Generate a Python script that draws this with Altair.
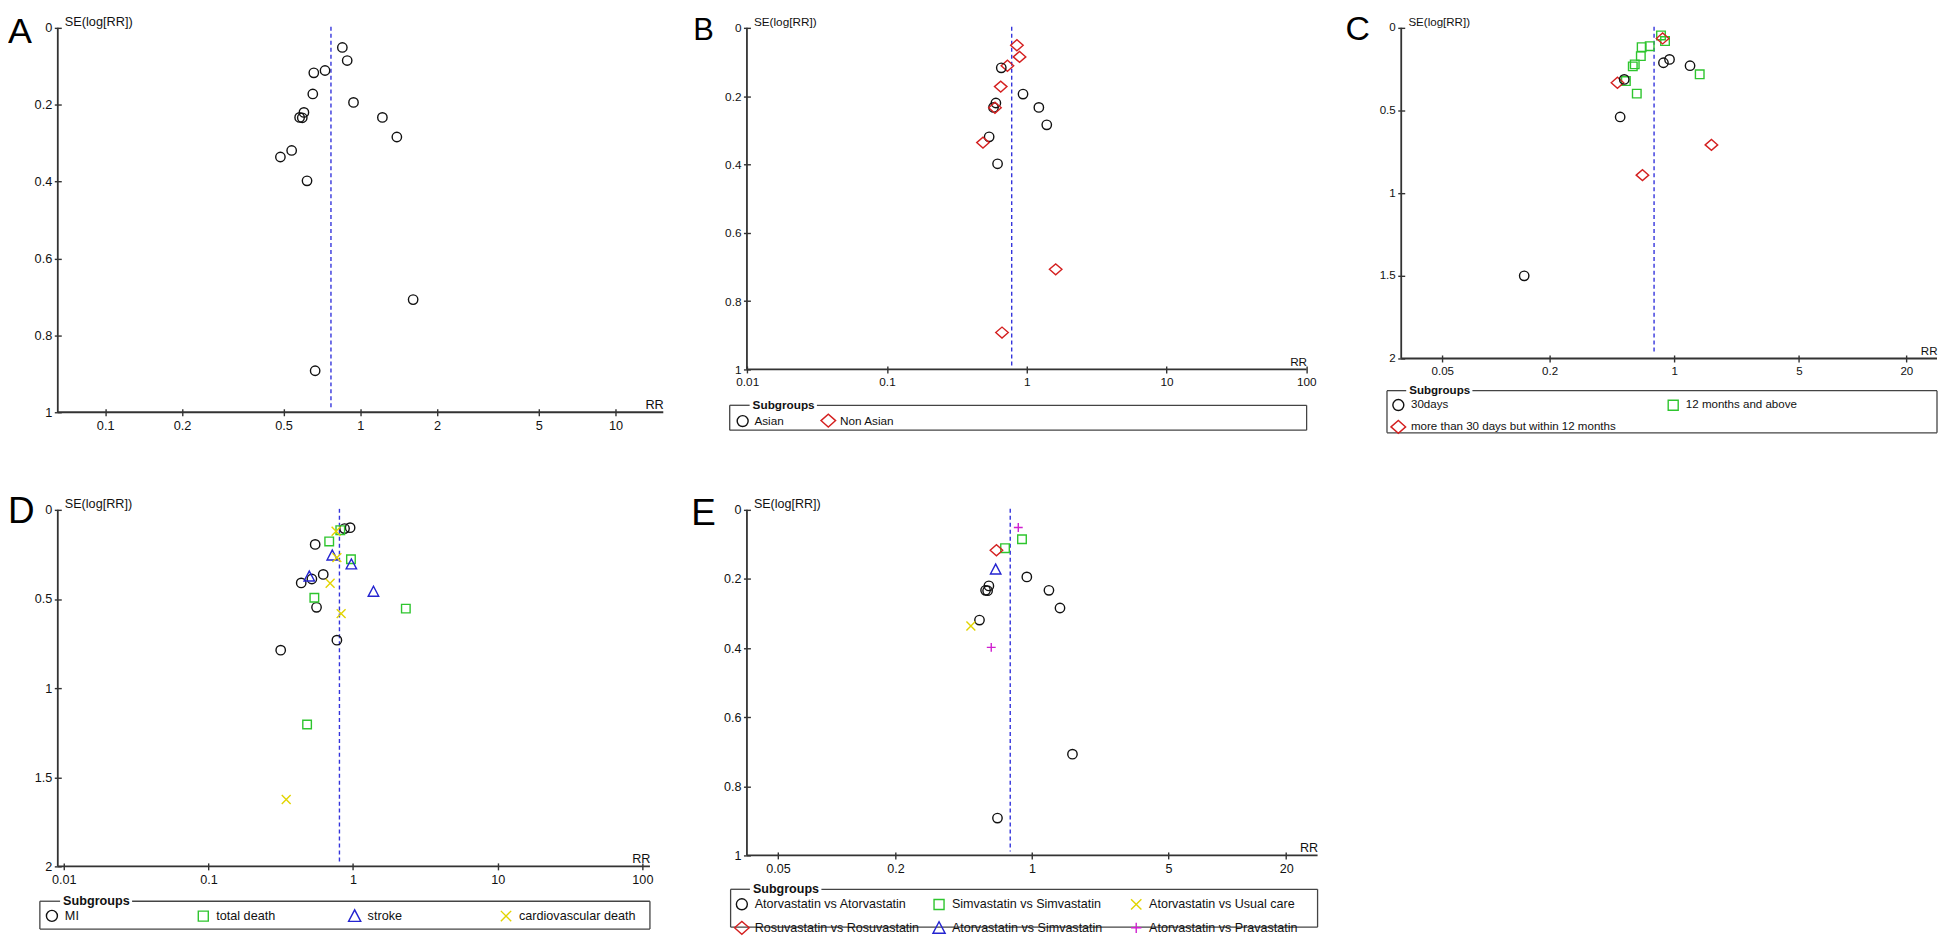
import altair as alt
import pandas as pd

FONT = "Liberation Sans"
AXC = "#333333"
TXT = "#111111"
BLACK = "#111111"
RED = "#d42020"
GREEN = "#2ec52e"
BLUE = "#2424d0"
YELLOW = "#e2d400"
MAGENTA = "#d020d0"
DASH = "#3434dc"

CIRCLE = "M0.9,0A0.9,0.9,0,1,1,-0.9,0A0.9,0.9,0,1,1,0.9,0Z"
DIAMOND = "M-1.2,0L0,-1.05L1.2,0L0,1.05Z"
SQUARE = "M-0.82,-0.82L0.82,-0.82L0.82,0.82L-0.82,0.82Z"
TRIANGLE = "M-1,0.9L0,-1L1,0.9Z"
XMARK = "M-0.85,-0.85L0.85,0.85M-0.85,0.85L0.85,-0.85"
PLUS = "M-0.85,0L0.85,0M0,-0.85L0,0.85"

# ---------------- data ----------------
# studies shared by panels A, B and E
rr_main = [0.850, 0.888, 0.727, 0.657, 0.651, 0.940, 0.601, 0.578, 0.592, 1.220,
           1.390, 0.538, 0.486, 0.618, 1.610, 0.665]
se_main = [0.051, 0.085, 0.111, 0.117, 0.172, 0.194, 0.220, 0.233, 0.234, 0.233,
           0.284, 0.319, 0.336, 0.398, 0.707, 0.892]
region_B = ["Non Asian", "Non Asian", "Non Asian", "Asian", "Non Asian", "Asian", "Asian",
            "Asian", "Non Asian", "Asian", "Asian", "Asian", "Non Asian", "Asian",
            "Non Asian", "Non Asian"]
statin_E = ["Atorvastatin vs Pravastatin", "Simvastatin vs Simvastatin",
            "Simvastatin vs Simvastatin", "Rosuvastatin vs Rosuvastatin",
            "Atorvastatin vs Simvastatin", "Atorvastatin vs Atorvastatin",
            "Atorvastatin vs Atorvastatin", "Atorvastatin vs Atorvastatin",
            "Atorvastatin vs Atorvastatin", "Atorvastatin vs Atorvastatin",
            "Atorvastatin vs Atorvastatin", "Atorvastatin vs Atorvastatin",
            "Atorvastatin vs Usual care", "Atorvastatin vs Pravastatin",
            "Atorvastatin vs Atorvastatin", "Atorvastatin vs Atorvastatin"]

# panel C
rr_C = [0.842, 0.887, 0.728, 0.656, 0.649, 0.600, 0.585, 0.535, 0.616, 1.388,
        0.860, 0.480, 1.615, 0.663,
        0.869, 0.940, 1.225, 0.524, 0.497, 0.144]
se_C = [0.046, 0.080, 0.111, 0.117, 0.171, 0.221, 0.233, 0.322, 0.398, 0.281,
        0.064, 0.332, 0.708, 0.891,
        0.211, 0.191, 0.229, 0.312, 0.539, 1.500]
time_C = (["12 months and above"] * 10 + ["more than 30 days but within 12 months"] * 4
          + ["30days"] * 6)

# panel D
rr_D = [0.954, 0.873, 0.547, 0.622, 0.519, 0.438, 0.559, 0.773, 0.316,
        0.816, 0.684, 0.967, 0.540, 2.316, 0.481,
        0.718, 0.973, 0.498, 1.384,
        0.763, 0.773, 0.694, 0.827, 0.345]
se_D = [0.100, 0.105, 0.194, 0.362, 0.388, 0.410, 0.547, 0.731, 0.787,
        0.114, 0.177, 0.277, 0.493, 0.554, 1.204,
        0.255, 0.305, 0.373, 0.458,
        0.120, 0.268, 0.412, 0.582, 1.625]
outcome_D = (["MI"] * 9 + ["total death"] * 6 + ["stroke"] * 4 + ["cardiovascular death"] * 5)

pooled = {"A": 0.767, "B": 0.78, "C": 0.77, "D": 0.805, "E": 0.773}

dfA = pd.DataFrame({"rr": rr_main, "se": se_main})
dfB = pd.DataFrame({"rr": rr_main, "se": se_main, "g": region_B})
dfC = pd.DataFrame({"rr": rr_C, "se": se_C, "g": time_C})
dfD = pd.DataFrame({"rr": rr_D, "se": se_D, "g": outcome_D})
dfE = pd.DataFrame({"rr": rr_main, "se": se_main, "g": statin_E})

ONE = pd.DataFrame({"k": [0]})


def rule(**enc):
    style = enc.pop("style", {})
    return alt.Chart(ONE).mark_rule(**style).encode(**enc)


def build(df, p):
    w, h, fs = p["w"], p["h"], p["fs"]
    xscale = alt.Scale(type="log", domain=p["xdom"], nice=False)
    yscale = alt.Scale(domain=[0, p["ymax"]], reverse=True, nice=False, zero=False)
    common = dict(format="~g", domain=False, grid=False, tickSize=7, tickWidth=1.4,
                  tickColor=AXC, offset=-3.5, labelFont=FONT, labelFontSize=fs,
                  labelColor=TXT, labelFlush=False, labelOverlap=False, titleFont=FONT,
                  titleFontSize=fs, titleFontWeight="normal", titleColor=TXT, titleAngle=0,
                  titleBaseline="alphabetic")
    xaxis = alt.Axis(values=p["xt"], labelPadding=4, title="RR", titleAlign="right",
                     titleX=p["axis_len"], titleY=0, **common)
    yaxis = alt.Axis(values=p["yt"], labelPadding=2.5, title="SE(log[RR])", titleAlign="left",
                     titleX=p["ytdx"] - 3.5, titleY=-2, **common)
    X = alt.X("rr:Q", scale=xscale, axis=xaxis)
    Y = alt.Y("se:Q", scale=yscale, axis=yaxis)

    layers = []
    # axis lines
    layers.append(rule(x=alt.value(0), x2=alt.value(p["axis_len"]), y=alt.value(h),
                       style=dict(color=AXC, strokeWidth=1.8)))
    layers.append(rule(x=alt.value(0), y=alt.value(0), y2=alt.value(h),
                       style=dict(color=AXC, strokeWidth=1.8)))
    # pooled estimate
    layers.append(alt.Chart(pd.DataFrame({"rr": [p["rr0"]]})).mark_rule(
        color=DASH, strokeDash=[4, 3], strokeWidth=1.4).encode(
        x=X, y=alt.value(-1), y2=alt.value(h - 4)))
    # points
    if "groups" in p:
        leg = alt.Legend(orient="none", legendX=p["lx"], legendY=p["ly"], direction="horizontal",
                         columns=p["cols"], title=None, labelFont=FONT, labelFontSize=fs,
                         labelColor=TXT, labelOffset=p["lo"], labelLimit=500, symbolSize=150,
                         symbolStrokeWidth=1.4, columnPadding=p["cp"], rowPadding=p["rp"],
                         gridAlign=p["ga"], padding=0)
        pts = alt.Chart(df).mark_point(filled=False, size=110, strokeWidth=1.4, opacity=1).encode(
            x=X, y=Y,
            shape=alt.Shape("g:N", scale=alt.Scale(domain=p["groups"], range=p["shapes"]), legend=leg),
            color=alt.Color("g:N", scale=alt.Scale(domain=p["groups"], range=p["colors"]), legend=leg))
    else:
        pts = alt.Chart(df).mark_point(filled=False, size=110, strokeWidth=1.4, opacity=1,
                                       shape=CIRCLE, color=BLACK).encode(x=X, y=Y)
    layers.append(pts)
    # panel letter
    layers.append(alt.Chart(ONE).mark_text(text=p["letter"], font=FONT, fontSize=p["lfs"],
                                           align="left", baseline="top", color="black")
                  .encode(x=alt.value(p["ldx"]), y=alt.value(p["ldy"])))
    # legend group box
    if "box" in p:
        bl, br, bt, bb, tl = p["box"]
        tw = 5.3 * fs
        st = dict(color="#444444", strokeWidth=1.3)
        layers.append(rule(x=alt.value(bl), x2=alt.value(tl - 3), y=alt.value(bt), style=st))
        layers.append(rule(x=alt.value(tl + tw + 2), x2=alt.value(br), y=alt.value(bt), style=st))
        layers.append(rule(x=alt.value(bl), x2=alt.value(br), y=alt.value(bb), style=st))
        layers.append(rule(x=alt.value(bl), y=alt.value(bt), y2=alt.value(bb), style=st))
        layers.append(rule(x=alt.value(br), y=alt.value(bt), y2=alt.value(bb), style=st))
        layers.append(alt.Chart(ONE).mark_text(text="Subgroups", font=FONT, fontSize=fs,
                                               fontWeight="bold", align="left", baseline="middle",
                                               color=TXT)
                      .encode(x=alt.value(tl), y=alt.value(bt)))
    return alt.layer(*layers).properties(width=w, height=h)


PA = dict(w=608, h=386, fs=12.8, xdom=[0.06519, 15.39], xt=[0.1, 0.2, 0.5, 1, 2, 5, 10],
          ymax=1, yt=[0, 0.2, 0.4, 0.6, 0.8, 1], rr0=pooled["A"], ytdx=6.5, axis_len=608,
          letter="A", lfs=36, ldx=-50, ldy=-13)
PB = dict(w=562, h=343, fs=11.8, xdom=[0.00995, 100.5], xt=[0.01, 0.1, 1, 10, 100],
          ymax=1, yt=[0, 0.2, 0.4, 0.6, 0.8, 1], rr0=pooled["B"], ytdx=6.5, axis_len=562,
          letter="B", lfs=31, ldx=-54, ldy=-12.3,
          groups=["Asian", "Non Asian"], shapes=[CIRCLE, DIAMOND], colors=[BLACK, RED],
          lx=-11.3, ly=387, cols=2, cp=33, rp=0, lo=4.8, ga="each",
          box=(-17.3, 562, 379, 404, 5.7))
PC = dict(w=538, h=332, fs=11.6, xdom=[0.02944, 29.7], xt=[0.05, 0.2, 1, 5, 20],
          ymax=2, yt=[0, 0.5, 1, 1.5, 2], rr0=pooled["C"], ytdx=6.7, axis_len=538,
          letter="C", lfs=34, ldx=-56, ldy=-14.3,
          groups=["30days", "12 months and above", "more than 30 days but within 12 months"],
          shapes=[CIRCLE, SQUARE, DIAMOND], colors=[BLACK, GREEN, RED],
          lx=-9.9, ly=370.9, cols=2, cp=49, rp=2.8, lo=5.7, ga="all",
          box=(-14.3, 538, 364.3, 406.7, 8))
PD = dict(w=608, h=358, fs=12.7, xdom=[0.009093, 139.5], xt=[0.01, 0.1, 1, 10, 100],
          ymax=2, yt=[0, 0.5, 1, 1.5, 2], rr0=pooled["D"], ytdx=6.5, axis_len=594.6,
          letter="D", lfs=37, ldx=-50, ldy=-16,
          groups=["MI", "total death", "stroke", "cardiovascular death"],
          shapes=[CIRCLE, SQUARE, TRIANGLE, XMARK], colors=[BLACK, GREEN, BLUE, YELLOW],
          lx=-12.9, ly=400.4, cols=4, cp=12, rp=0, lo=6, ga="all",
          box=(-18, 594.6, 393, 421, 5.3))
PE = dict(w=573, h=347, fs=12.6, xdom=[0.03467, 28.97], xt=[0.05, 0.2, 1, 5, 20],
          ymax=1, yt=[0, 0.2, 0.4, 0.6, 0.8, 1], rr0=pooled["E"], ytdx=6.5, axis_len=573,
          letter="E", lfs=37, ldx=-56, ldy=-14,
          groups=["Atorvastatin vs Atorvastatin", "Simvastatin vs Simvastatin",
                  "Atorvastatin vs Usual care", "Rosuvastatin vs Rosuvastatin",
                  "Atorvastatin vs Simvastatin", "Atorvastatin vs Pravastatin"],
          shapes=[CIRCLE, SQUARE, XMARK, DIAMOND, TRIANGLE, PLUS],
          colors=[BLACK, GREEN, YELLOW, RED, BLUE, MAGENTA],
          lx=-12.1, ly=388.2, cols=3, cp=10, rp=4.5, lo=5.9, ga="all",
          box=(-16.4, 573, 381, 419, 6))

chart = alt.concat(
    build(dfA, PA), build(dfB, PB), build(dfC, PC), build(dfD, PD), build(dfE, PE),
    columns=3, spacing={"row": 98, "column": 84}, bounds="flush",
    align={"row": "each", "column": "none"},
).resolve_scale(
    x="independent", y="independent", color="independent", shape="independent"
).configure_view(stroke=None).properties(
    padding={"top": 3, "left": 0, "right": 0, "bottom": 0})

chart.save("out.html", embed_options={"renderer": "svg", "actions": False})
